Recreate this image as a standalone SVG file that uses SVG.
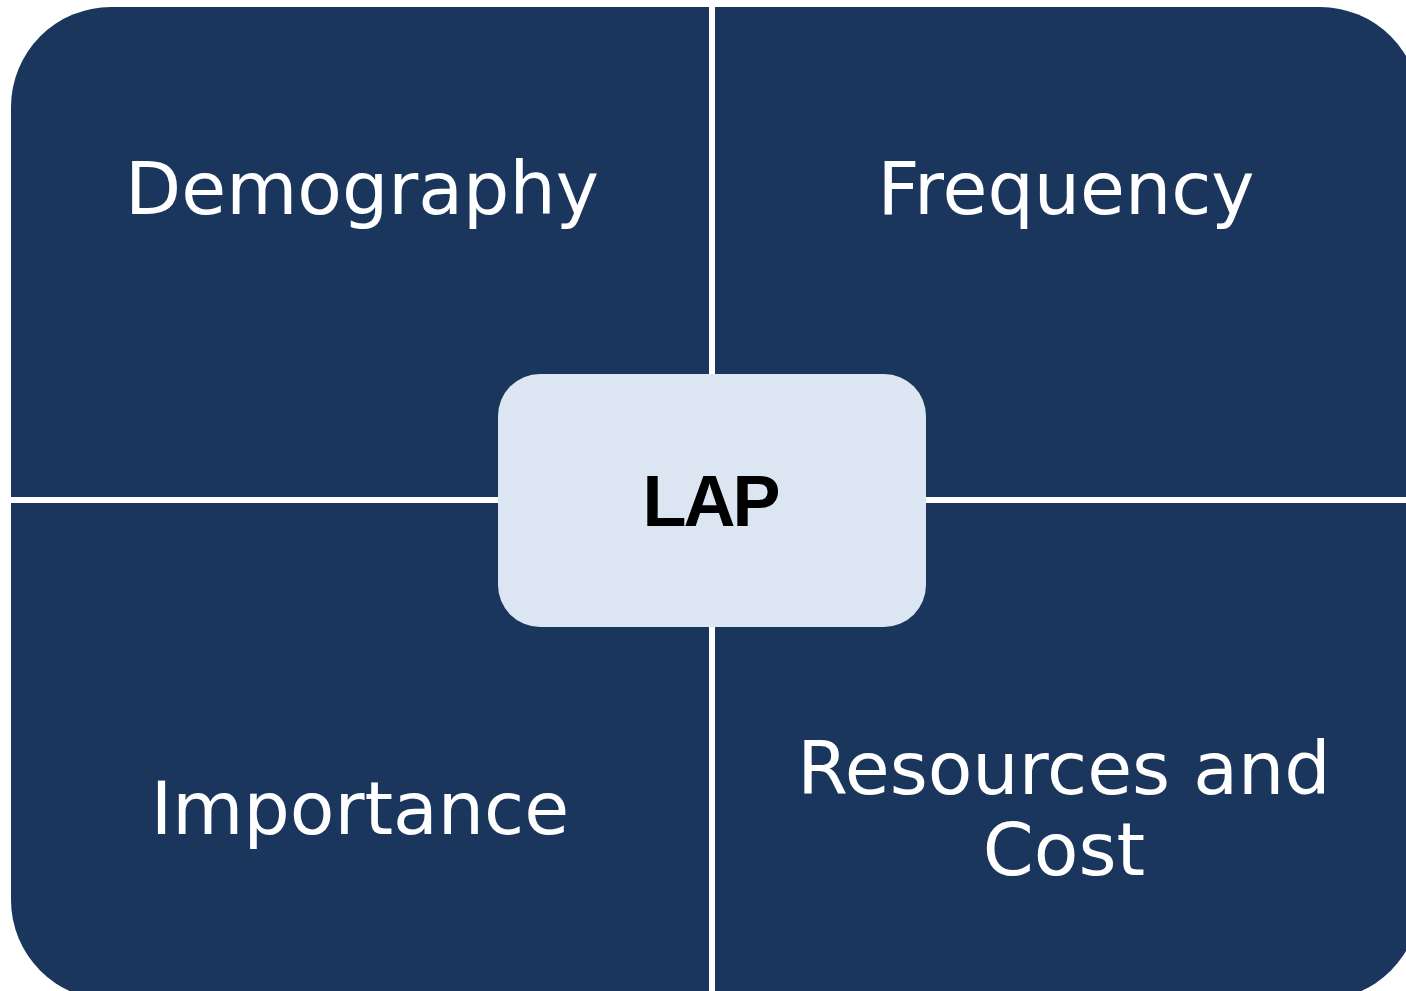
<svg xmlns="http://www.w3.org/2000/svg" width="1406" height="991" viewBox="0 0 1406 991">
  <style>
    .quad { fill: #1a365d; }
    .lbl { fill: #ffffff; font-family: "DejaVu Sans", "Liberation Sans", sans-serif; font-size: 73px; text-anchor: middle; }
    .center { fill: #dce6f2; }
    .clbl { fill: #000000; font-family: "Liberation Sans", "DejaVu Sans", sans-serif; font-weight: bold; font-size: 72px; letter-spacing: -3px; text-anchor: middle; }
  </style>
  <rect x="0" y="0" width="1406" height="991" fill="#ffffff"/>
  <g id="connectors"></g>
  <g id="demography">
    <path class="quad" d="M11,497 V107 A100,100 0 0 1 111,7 H709 V497 Z"/>
    <text class="lbl" x="362" y="214">Demography</text>
  </g>
  <g id="frequency">
    <path class="quad" d="M715,7 H1320 A100,100 0 0 1 1420,107 V497 H715 Z"/>
    <text class="lbl" x="1066" y="214">Frequency</text>
  </g>
  <g id="importance">
    <path class="quad" d="M11,503 H709 V1000 H111 A100,100 0 0 1 11,900 Z"/>
    <text class="lbl" x="360" y="834">Importance</text>
  </g>
  <g id="resources">
    <path class="quad" d="M715,503 H1420 V900 A100,100 0 0 1 1320,1000 H715 Z"/>
    <text class="lbl" x="1064" y="794">Resources and</text>
    <text class="lbl" x="1064" y="875">Cost</text>
  </g>
  <g id="lap">
    <rect class="center" x="498" y="374" width="428" height="253" rx="42" ry="42"/>
    <text class="clbl" x="710" y="526">LAP</text>
  </g>
</svg>
